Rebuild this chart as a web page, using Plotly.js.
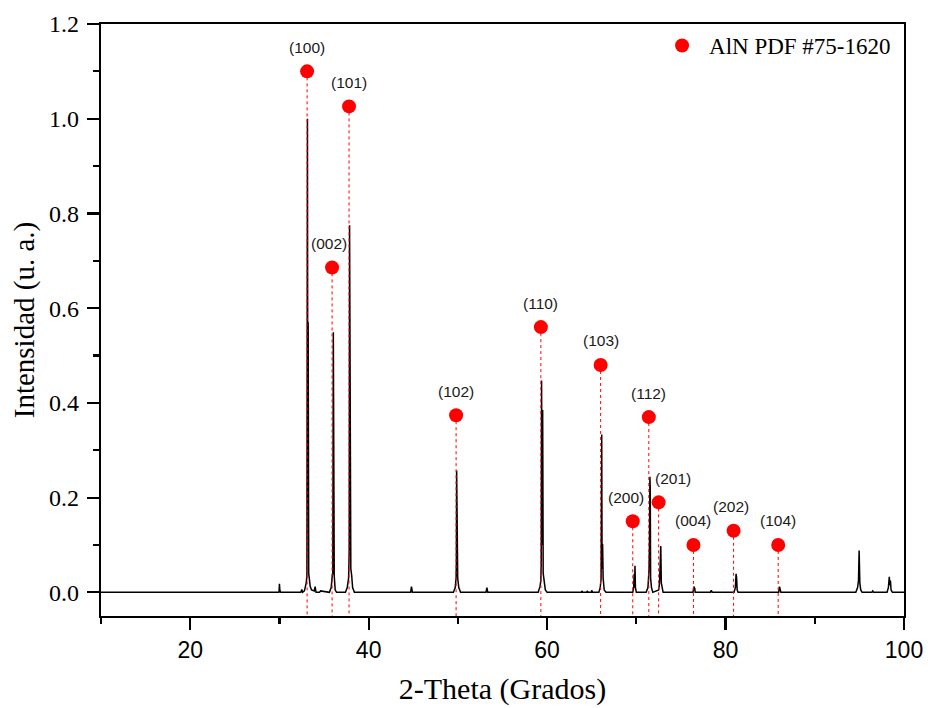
<!DOCTYPE html>
<html>
<head>
<meta charset="utf-8">
<script src="https://cdn.plot.ly/plotly-3.0.1.min.js"></script>
<style>html,body{margin:0;padding:0;background:#fff;}#chart{width:928px;height:708px;}</style>
</head>
<body>
<div id="chart"></div>
<script>
// ---- Measured XRD pattern (2-theta in degrees, normalized intensity) ----
const twoTheta = [
  10.0, 29.8, 29.95, 30.0, 30.05, 30.15,
  32.4, 32.5, 32.6, 32.8, 32.9, 33.0, 33.08, 33.1, 33.14, 33.18, 33.22, 33.28, 33.35, 33.45, 33.6,
  33.9, 34.0, 34.1, 34.5, 34.6,
  35.6, 35.8, 35.92, 35.98, 36.04, 36.08, 36.14, 36.25, 36.4,
  37.4, 37.6, 37.75, 37.82, 37.86, 37.9, 37.94, 38.0, 38.1, 38.2, 38.4,
  44.7, 44.8, 44.9,
  49.5, 49.7, 49.8, 49.83, 49.86, 49.9, 49.93, 49.98, 50.1, 50.3,
  53.15, 53.25, 53.35,
  59.0, 59.2, 59.3, 59.34, 59.38, 59.44, 59.5, 59.56, 59.65, 59.8, 60.0,
  63.85, 63.9, 64.0, 64.45, 64.5, 64.6, 64.95, 65.0, 65.1,
  65.8, 65.95, 66.05, 66.08, 66.12, 66.16, 66.22, 66.28, 66.4, 66.6,
  69.6, 69.7, 69.76, 69.8, 69.85, 69.9, 70.0,
  71.1, 71.3, 71.42, 71.47, 71.52, 71.56, 71.6, 71.7, 71.85,
  72.5, 72.6, 72.64, 72.68, 72.74, 72.8, 72.9, 73.0,
  76.35, 76.45, 76.55, 76.6,
  78.3, 78.4, 78.5,
  80.95, 81.1, 81.18, 81.24, 81.3, 81.4,
  85.95, 86.05, 86.15, 86.2,
  94.6, 94.8, 94.9, 94.97, 95.05, 95.15, 95.3,
  96.4, 96.5, 96.6,
  98.1, 98.25, 98.35, 98.42, 98.48, 98.55, 98.7, 100.0
];
const intensity = [
  0.0, 0.0, 0.0, 0.018, 0.004, 0.0,
  0.0, 0.006, 0.0, 0.003, 0.01, 0.02, 0.035, 0.30, 1.0, 0.20, 0.57, 0.04, 0.03, 0.012, 0.005,
  0.003, 0.012, 0.0, 0.0, 0.003,
  0.0, 0.01, 0.035, 0.04, 0.549, 0.04, 0.035, 0.005, 0.0,
  0.0, 0.01, 0.03, 0.09, 0.775, 0.30, 0.727, 0.05, 0.035, 0.01, 0.0,
  0.0, 0.012, 0.0,
  0.0, 0.01, 0.03, 0.063, 0.257, 0.06, 0.163, 0.03, 0.01, 0.0,
  0.0, 0.01, 0.0,
  0.0, 0.012, 0.025, 0.063, 0.447, 0.10, 0.385, 0.04, 0.02, 0.005, 0.0,
  0.0, 0.003, 0.0, 0.0, 0.003, 0.0, 0.0, 0.004, 0.0,
  0.0, 0.01, 0.028, 0.194, 0.333, 0.05, 0.102, 0.03, 0.005, 0.0,
  0.0, 0.01, 0.039, 0.01, 0.056, 0.01, 0.0,
  0.0, 0.01, 0.046, 0.10, 0.244, 0.22, 0.03, 0.01, 0.0,
  0.005, 0.02, 0.066, 0.02, 0.098, 0.02, 0.005, 0.0,
  0.0, 0.012, 0.008, 0.0,
  0.0, 0.004, 0.0,
  0.0, 0.01, 0.039, 0.03, 0.005, 0.0,
  0.0, 0.012, 0.006, 0.0,
  0.0, 0.01, 0.025, 0.088, 0.02, 0.005, 0.0,
  0.0, 0.003, 0.0,
  0.0, 0.01, 0.033, 0.015, 0.025, 0.005, 0.0, 0.0
];

// ---- AlN reference (PDF #75-1620) ----
const refName = 'AlN PDF #75-1620';
const refHKL   = ['(100)', '(002)', '(101)', '(102)', '(110)', '(103)', '(200)', '(112)', '(201)', '(004)', '(202)', '(104)'];
const refPos   = [33.1, 35.9, 37.8, 49.8, 59.3, 66.0, 69.6, 71.4, 72.5, 76.4, 80.9, 85.9];
const refMarkY = [1.10, 0.686, 1.026, 0.374, 0.56, 0.48, 0.15, 0.37, 0.19, 0.10, 0.13, 0.10];

// ---- axes ----
const xRange = [10, 100];
const yRange = [-0.05, 1.2];
const xTicks = [20, 40, 60, 80, 100];
const xMinor = [10, 30, 50, 70, 90];
const yTicks = [0.0, 0.2, 0.4, 0.6, 0.8, 1.0, 1.2];
const yMinor = [0.1, 0.3, 0.5, 0.7, 0.9, 1.1];
const xTitle = '2-Theta (Grados)';
const yTitle = 'Intensidad (u. a.)';

// label horizontal nudges (pixels, styling only)
const labelNudge = [0, -3, 0, 0, 0, 0, -7, 0, 14, 0, -3, 0];

const SERIF = '"Liberation Serif", "Times New Roman", Times, serif';
const SANS = '"Liberation Sans", Arial, Helvetica, sans-serif';

// drop lines from each reference marker down to the bottom of the plot
const dropX = [], dropY = [];
refPos.forEach((p, i) => { dropX.push(p, p, null); dropY.push(refMarkY[i], yRange[0], null); });

const traces = [
  {
    x: twoTheta, y: intensity, type: 'scatter', mode: 'lines',
    line: {color: '#000000', width: 1.5}, showlegend: false, hoverinfo: 'skip'
  },
  {
    x: dropX, y: dropY, type: 'scatter', mode: 'lines',
    line: {color: '#ff0000', width: 1, dash: 'dot'}, showlegend: false, hoverinfo: 'skip'
  },
  {
    x: refPos, y: refMarkY, type: 'scatter', mode: 'markers', name: refName,
    marker: {color: '#ff0000', size: 14, symbol: 'circle'}, showlegend: true
  }
];

const annotations = refHKL.map((t, i) => ({
  x: refPos[i], y: refMarkY[i], xref: 'x', yref: 'y', text: t, showarrow: false,
  yshift: 24, xshift: labelNudge[i], xanchor: 'center', yanchor: 'middle',
  font: {family: SANS, size: 15.5, color: '#1a1a1a'}
}));

const layout = {
  width: 928, height: 708,
  margin: {l: 101, r: 24, t: 24, b: 92, pad: 0},
  paper_bgcolor: '#ffffff', plot_bgcolor: '#ffffff',
  showlegend: true,
  legend: {
    x: 0.690, y: 1.0, xanchor: 'left', yanchor: 'top', itemwidth: 44,
    bgcolor: 'rgba(0,0,0,0)', borderwidth: 0,
    font: {family: SERIF, size: 23, color: '#000000'}
  },
  xaxis: {
    range: xRange, tickmode: 'array', tickvals: xTicks, ticktext: xTicks.map(String),
    showgrid: false, zeroline: false,
    showline: true, linecolor: '#000000', linewidth: 2.2, mirror: true,
    ticks: 'outside', ticklen: 12, tickwidth: 2.2, tickcolor: '#000000',
    minor: {tickmode: 'array', tickvals: xMinor, ticks: 'outside', ticklen: 6, tickwidth: 2.2, tickcolor: '#000000', showgrid: false},
    tickfont: {family: SANS, size: 23, color: '#000000'},
    title: {text: xTitle, font: {family: SERIF, size: 30, color: '#000000'}, standoff: 16},
    automargin: false
  },
  yaxis: {
    range: yRange, tickmode: 'array', tickvals: yTicks, ticktext: yTicks.map(v => v.toFixed(1)),
    showgrid: false, zeroline: false,
    showline: true, linecolor: '#000000', linewidth: 2.2, mirror: true,
    ticks: 'outside', ticklen: 12, tickwidth: 2.2, tickcolor: '#000000',
    minor: {tickmode: 'array', tickvals: yMinor, ticks: 'outside', ticklen: 6, tickwidth: 2.2, tickcolor: '#000000', showgrid: false},
    tickfont: {family: SERIF, size: 24, color: '#000000'},
    ticklabelstandoff: 3,
    title: {text: yTitle, font: {family: SERIF, size: 29, color: '#000000'}, standoff: 6},
    automargin: false
  },
  annotations: annotations
};

Plotly.newPlot('chart', traces, layout, {displayModeBar: false, staticPlot: true});
</script>
</body>
</html>
